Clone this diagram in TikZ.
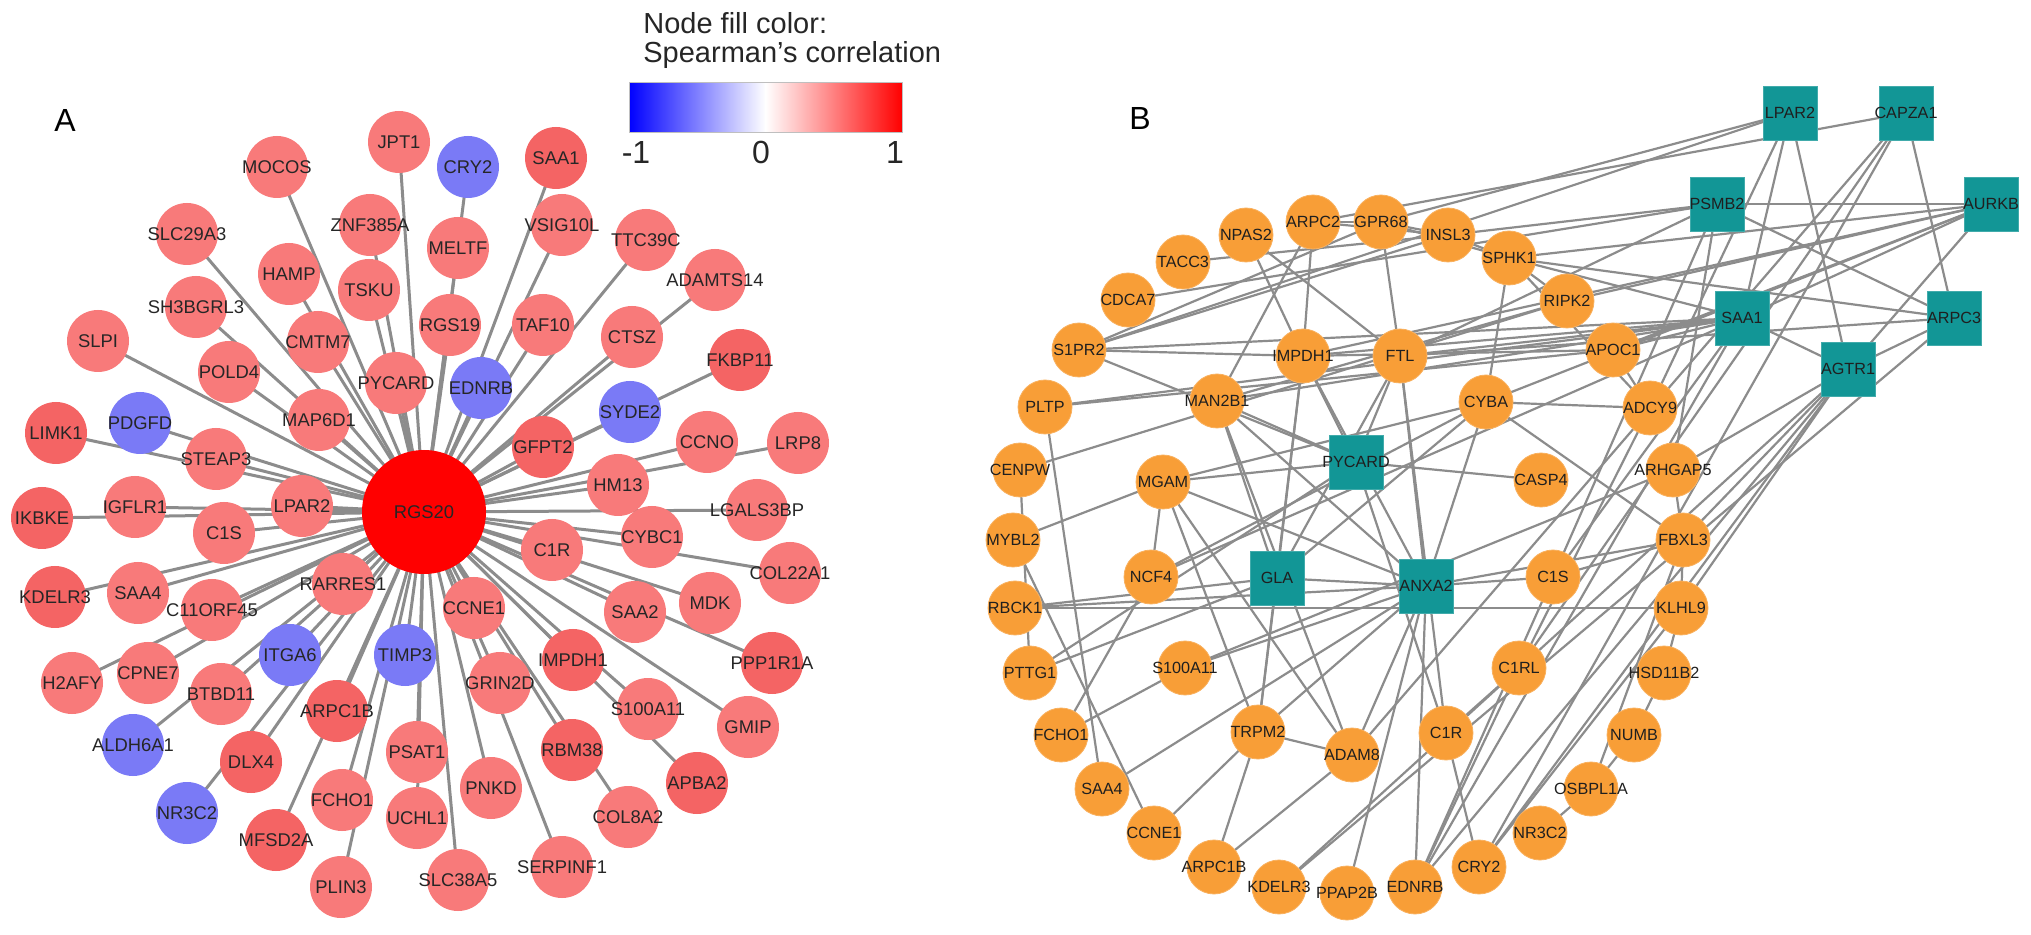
\documentclass[tikz,border=0pt]{standalone}
\usepackage{fontspec}
\setmainfont{Liberation Sans}
\usetikzlibrary{backgrounds}
\definecolor{ar}{RGB}{248,122,122}
\definecolor{ad}{RGB}{244,100,100}
\definecolor{ab}{RGB}{122,122,246}
\definecolor{bo}{RGB}{248,158,55}
\definecolor{bt}{RGB}{18,150,150}
\definecolor{edgegray}{RGB}{140,140,140}
\tikzset{
  anode/.style={circle, minimum size=31pt, inner sep=0pt, draw=none},
  alab/.style={font=\fontsize{9.2}{10}\selectfont, text=black!85, inner sep=0pt},
  blab/.style={font=\fontsize{8.1}{9}\selectfont, text=black!88, inner sep=0pt},
  bc/.style={circle, minimum size=27pt, inner sep=0pt, fill=bo, draw=bo!80!white, line width=0.4pt},
  bs/.style={rectangle, minimum size=27pt, inner sep=0pt, fill=bt, draw=bt!80!white, line width=0.4pt},
  aedge/.style={draw=edgegray, line width=1.5pt},
  bedge/.style={draw=edgegray, line width=1.1pt},
  panel/.style={font=\fontsize{16}{18}\selectfont, inner sep=0pt},
}
\def\Alist{MOCOS/277/167/r, JPT1/399/142/r, CRY2/468/167/b, SAA1/556/158/d, SLC29A3/187/234/r, ZNF385A/370/225/r, MELTF/458/248/r, VSIG10L/562/225/r, TTC39C/646/240/r, HAMP/289/274/r, TSKU/369/290/r, ADAMTS14/715/280/r, SH3BGRL3/196/307/r, RGS19/450/325/r, TAF10/543/325/r, CTSZ/632/337/r, CMTM7/318/342/r, SLPI/98/341/r, POLD4/229/372/r, FKBP11/740/360/d, PYCARD/396/383/r, EDNRB/481/388/b, MAP6D1/319/420/r, SYDE2/630/412/b, PDGFD/140/423/b, LIMK1/56/433/d, CCNO/707/442/r, LRP8/798/443/r, GFPT2/543/447/d, STEAP3/216/459/r, HM13/618/485/r, LPAR2/302/506/r, IGFLR1/135/507/r, LGALS3BP/757/510/r, IKBKE/42/518/d, C1S/224/533/r, CYBC1/652/537/r, C1R/552/550/r, COL22A1/790/573/r, RARRES1/343/584/r, SAA4/138/593/r, KDELR3/55/597/d, MDK/710/603/r, CCNE1/474/608/r, C11ORF45/212/610/r, SAA2/635/612/r, ITGA6/290/655/b, TIMP3/405/655/b, IMPDH1/573/660/d, PPP1R1A/772/663/d, CPNE7/148/673/r, H2AFY/72/683/r, GRIN2D/500/683/r, BTBD11/221/694/r, S100A11/648/709/r, ARPC1B/337/711/d, GMIP/748/727/r, ALDH6A1/133/745/b, RBM38/572/750/d, PSAT1/417/752/r, DLX4/251/762/d, APBA2/697/783/d, PNKD/491/788/r, FCHO1/342/800/r, NR3C2/187/813/b, COL8A2/628/817/r, UCHL1/417/818/r, MFSD2A/276/840/d, SERPINF1/562/867/r, SLC38A5/458/880/r, PLIN3/341/887/r}
\def\Blist{TACC3/1183/262/c, NPAS2/1246/235/c, ARPC2/1313/222/c, GPR68/1381/222/c, INSL3/1448/235/c, SPHK1/1509/258/c, CDCA7/1128/300/c, S1PR2/1079/350/c, IMPDH1/1303/356/c, FTL/1400/356/c, PLTP/1045/407/c, MAN2B1/1217/401/c, CYBA/1486/402/c, CENPW/1020/470/c, MGAM/1163/482/c, PYCARD/1356/462/s, LPAR2/1790/113/s, CAPZA1/1906/113/s, PSMB2/1717/204/s, AURKB/1991/204/s, RIPK2/1567/301/c, SAA1/1742/318/s, ARPC3/1954/318/s, APOC1/1613/350/c, AGTR1/1848/369/s, ADCY9/1650/408/c, CASP4/1541/480/c, ARHGAP5/1673/470/c, MYBL2/1013/540/c, NCF4/1151/577/c, GLA/1277/578/s, ANXA2/1426/586/s, RBCK1/1015/608/c, PTTG1/1030/673/c, S100A11/1185/668/c, C1RL/1519/668/c, FCHO1/1061/735/c, TRPM2/1258/732/c, ADAM8/1352/755/c, C1R/1446/733/c, SAA4/1102/789/c, CCNE1/1154/833/c, ARPC1B/1214/867/c, KDELR3/1279/887/c, PPAP2B/1347/893/c, EDNRB/1415/887/c, CRY2/1479/867/c, FBXL3/1683/540/c, C1S/1553/577/c, KLHL9/1681/608/c, HSD11B2/1664/673/c, NUMB/1634/735/c, OSBPL1A/1591/789/c, NR3C2/1540/833/c}
\def\Bedges{LPAR2/GPR68, LPAR2/S1PR2, LPAR2/SAA1, LPAR2/AGTR1, LPAR2/ADCY9,
CAPZA1/ARPC2, CAPZA1/ARPC3, CAPZA1/C1RL, CAPZA1/CRY2, CAPZA1/ADAM8,
PSMB2/AURKB, PSMB2/ARPC3, PSMB2/CDCA7, PSMB2/ARHGAP5, PSMB2/C1S, PSMB2/FTL, PSMB2/INSL3,
AURKB/SPHK1, AURKB/RIPK2, AURKB/SAA1, AURKB/CYBA, AURKB/AGTR1, AURKB/IMPDH1, AURKB/APOC1,
SAA1/AGTR1, SAA1/S1PR2, SAA1/IMPDH1, SAA1/FTL, SAA1/SPHK1, SAA1/APOC1, SAA1/MAN2B1, SAA1/C1S, SAA1/EDNRB, SAA1/PLTP, SAA1/NCF4,
ARPC3/AGTR1, ARPC3/SPHK1, ARPC3/KDELR3, ARPC3/FTL,
AGTR1/KDELR3, AGTR1/EDNRB, AGTR1/CRY2, AGTR1/KLHL9, AGTR1/FBXL3, AGTR1/ARHGAP5,
PYCARD/IMPDH1, PYCARD/FTL, PYCARD/MGAM, PYCARD/CASP4, PYCARD/MAN2B1, PYCARD/C1R, PYCARD/PTTG1, PYCARD/S1PR2,
GLA/ANXA2, GLA/IMPDH1, GLA/FTL, GLA/RBCK1, GLA/PTTG1, GLA/TRPM2, GLA/MAN2B1, GLA/CYBA,
ANXA2/MAN2B1, ANXA2/IMPDH1, ANXA2/MGAM, ANXA2/EDNRB, ANXA2/PPAP2B, ANXA2/ADAM8, ANXA2/S100A11, ANXA2/SAA4, ANXA2/FBXL3, ANXA2/C1S, ANXA2/FTL, ANXA2/RBCK1, ANXA2/TRPM2, ANXA2/CYBA,
RBCK1/KLHL9, CENPW/PTTG1, MYBL2/MGAM, MYBL2/CCNE1, PLTP/SAA4, PLTP/APOC1, CENPW/RIPK2,
NCF4/FCHO1, NCF4/MGAM, NCF4/CYBA, S100A11/FCHO1, S100A11/ARHGAP5,
CCNE1/TRPM2, TRPM2/ADAM8, TRPM2/MGAM, TRPM2/ARPC1B, ADAM8/MGAM, ADAM8/ARPC1B, ADAM8/MAN2B1,
C1R/CRY2, C1R/C1RL, C1R/FTL, EDNRB/C1S, EDNRB/C1RL,
CRY2/KLHL9, FBXL3/KLHL9, FBXL3/CYBA, FBXL3/ARHGAP5, FBXL3/OSBPL1A, FBXL3/C1S,
KLHL9/HSD11B2, HSD11B2/NUMB, NUMB/OSBPL1A, OSBPL1A/NR3C2,
TACC3/INSL3, NPAS2/IMPDH1, NPAS2/FTL, ARPC2/IMPDH1, ARPC2/MAN2B1, ARPC2/GPR68, ARPC2/INSL3, GPR68/INSL3, GPR68/FTL, GPR68/SPHK1, GPR68/S1PR2, INSL3/SPHK1, INSL3/S1PR2,
SPHK1/CYBA, SPHK1/ADCY9, SPHK1/RIPK2, RIPK2/MAN2B1, APOC1/ADCY9, APOC1/IMPDH1, ADCY9/CYBA, ADCY9/C1RL,
IMPDH1/TRPM2, IMPDH1/S1PR2, MGAM/CYBA}
\begin{document}
\begin{tikzpicture}[x=0.5pt,y=-0.5pt]
\useasboundingbox (0,0) rectangle (2031,935);
\begin{scope}[on background layer]
\fill[white] (0,0) rectangle (2031,935);
\end{scope}
% panel labels
\node[panel] (labA) at (65,120) {A};
\node[panel] (labB) at (1140,118) {B};
% legend
\node[anchor=west, inner sep=0pt, font=\fontsize{14.5}{16}\selectfont, text=black!85] (legt1) at (643,23) {Node fill color:};
\node[anchor=west, inner sep=0pt, font=\fontsize{14.5}{16}\selectfont, text=black!85] (legt2) at (643,55) {Spearman’s correlation};
\shade[left color=blue, right color=white] (629,83) rectangle (765.5,133);
\shade[left color=white, right color=red] (765.5,83) rectangle (902,133);
\draw[gray!50, line width=0.5pt] (629,83) rectangle (902,133);
\node[font=\fontsize{16}{18}\selectfont, inner sep=0pt, text=black!85] (tkm) at (636,152) {-1};
\node[font=\fontsize{16}{18}\selectfont, inner sep=0pt, text=black!85] (tk0) at (761,152) {0};
\node[font=\fontsize{16}{18}\selectfont, inner sep=0pt, text=black!85] (tk1) at (895,152) {1};
% panel A
\node[circle, minimum size=62pt, inner sep=0pt, fill=red, label={[alab]center:RGS20}] (ARGS20) at (424,512) {};
\foreach \nm/\px/\py/\col in \Alist {
  \node[anode, fill=a\col, label={[alab]center:\nm}] (A\nm) at (\px,\py) {};
}
\begin{scope}[on background layer]
\foreach \nm/\px/\py/\col in \Alist {
  \draw[aedge] (ARGS20.center) -- (A\nm.center);
}
\end{scope}
% panel B
\foreach \nm/\px/\py/\shp in \Blist {
  \node[b\shp, label={[blab]center:\nm}] (B\nm) at (\px,\py) {};
}
\begin{scope}[on background layer]
\foreach \u/\v in \Bedges {
  \draw[bedge] (B\u.center) -- (B\v.center);
}
\end{scope}
\end{tikzpicture}
\end{document}
